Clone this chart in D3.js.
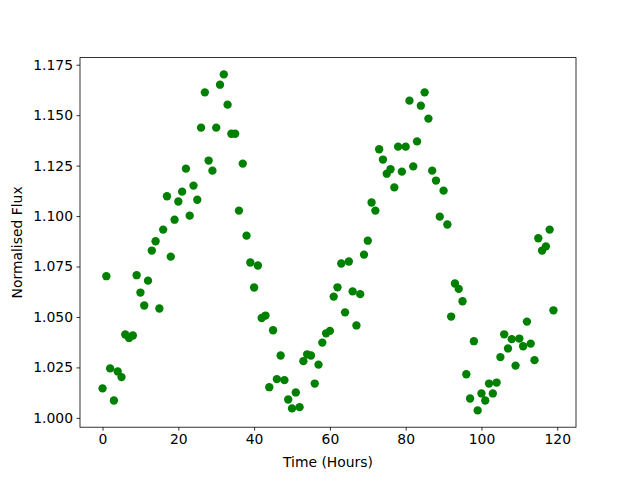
<!DOCTYPE html>
<html>
<head>
<meta charset="utf-8">
<script src="https://cdn.jsdelivr.net/npm/d3@7"></script>
<style>
  body { margin: 0; background: #fff; }
  svg { font-family: "DejaVu Sans", sans-serif; }
</style>
</head>
<body>
<div id="chart"></div>
<script>
// Hours since start of observation
const hours = d3.range(0, 120);

// Normalised flux readings, one per hour
const flux = [
  1.0146, 1.0702, 1.0245, 1.0086, 1.0230, 1.0202, 1.0413, 1.0396, 1.0408, 1.0707,
  1.0621, 1.0557, 1.0680, 1.0829, 1.0875, 1.0542, 1.0933, 1.1098, 1.0799, 1.0982,
  1.1072, 1.1121, 1.1235, 1.1002, 1.1151, 1.1081, 1.1438, 1.1613, 1.1275, 1.1225,
  1.1438, 1.1651, 1.1702, 1.1552, 1.1408, 1.1408, 1.1027, 1.1260, 1.0903, 1.0770,
  1.0646, 1.0755, 1.0495, 1.0507, 1.0152, 1.0434, 1.0192, 1.0309, 1.0187, 1.0091,
  1.0047, 1.0126, 1.0053, 1.0281, 1.0315, 1.0309, 1.0170, 1.0264, 1.0373, 1.0419,
  1.0431, 1.0601, 1.0647, 1.0765, 1.0523, 1.0775, 1.0627, 1.0458, 1.0613, 1.0809,
  1.0878, 1.1067, 1.1027, 1.1331, 1.1280, 1.1210, 1.1232, 1.1142, 1.1344, 1.1220,
  1.1344, 1.1572, 1.1246, 1.1370, 1.1547, 1.1613, 1.1483, 1.1225, 1.1176, 1.0997,
  1.1126, 1.0958, 1.0502, 1.0666, 1.0639, 1.0578, 1.0216, 1.0096, 1.0380, 1.0037,
  1.0121, 1.0086, 1.0170, 1.0121, 1.0175, 1.0301, 1.0414, 1.0344, 1.0390, 1.0259,
  1.0393, 1.0355, 1.0477, 1.0368, 1.0286, 1.0890, 1.0829, 1.0850, 1.0933, 1.0533
];

const xTicks = [0, 20, 40, 60, 80, 100, 120];
const yTicks = [1.000, 1.025, 1.050, 1.075, 1.100, 1.125, 1.150, 1.175];

const width = 640, height = 480;
const margin = { top: 57.6, right: 64, bottom: 52.8, left: 80 };
const fontPx = 13.9;

const svg = d3.select("#chart").append("svg")
  .attr("width", width)
  .attr("height", height);

// matplotlib-style 5% padding around the data range
function padded(ext) {
  const span = ext[1] - ext[0];
  return [ext[0] - span * 0.05, ext[1] + span * 0.05];
}

const x = d3.scaleLinear()
  .domain(padded(d3.extent(hours)))
  .range([margin.left, width - margin.right]);

const y = d3.scaleLinear()
  .domain(padded(d3.extent(flux)))
  .range([height - margin.bottom, margin.top]);

// points
svg.append("g")
  .selectAll("circle")
  .data(hours.map((h, i) => ({ h, f: flux[i] })))
  .join("circle")
  .attr("cx", d => x(d.h))
  .attr("cy", d => y(d.f))
  .attr("r", 4.17)
  .attr("fill", "#008000");

// axes
const xAxis = svg.append("g")
  .attr("transform", `translate(0,${height - margin.bottom})`)
  .call(d3.axisBottom(x).tickValues(xTicks).tickSize(3.5).tickPadding(3.5).tickFormat(d3.format("d")));

const yAxis = svg.append("g")
  .attr("transform", `translate(${margin.left},0)`)
  .call(d3.axisLeft(y).tickValues(yTicks).tickSize(3.5).tickPadding(3.5).tickFormat(d3.format(".3f")));

[xAxis, yAxis].forEach(g => {
  g.select(".domain").remove();
  g.selectAll(".tick line").attr("stroke", "#000").attr("stroke-width", 0.8);
  g.selectAll(".tick text")
    .attr("fill", "#000")
    .style("font-size", fontPx + "px")
    .style("font-family", "DejaVu Sans");
});

// frame
svg.append("rect")
  .attr("x", margin.left)
  .attr("y", margin.top)
  .attr("width", width - margin.left - margin.right)
  .attr("height", height - margin.top - margin.bottom)
  .attr("fill", "none")
  .attr("stroke", "#000")
  .attr("stroke-width", 0.8);

// axis labels
svg.append("text")
  .attr("x", margin.left + (width - margin.left - margin.right) / 2)
  .attr("y", 467)
  .attr("text-anchor", "middle")
  .style("font-size", fontPx + "px")
  .text("Time (Hours)");

svg.append("text")
  .attr("transform", `translate(22,${margin.top + (height - margin.top - margin.bottom) / 2}) rotate(-90)`)
  .attr("text-anchor", "middle")
  .style("font-size", fontPx + "px")
  .text("Normalised Flux");
</script>
</body>
</html>
